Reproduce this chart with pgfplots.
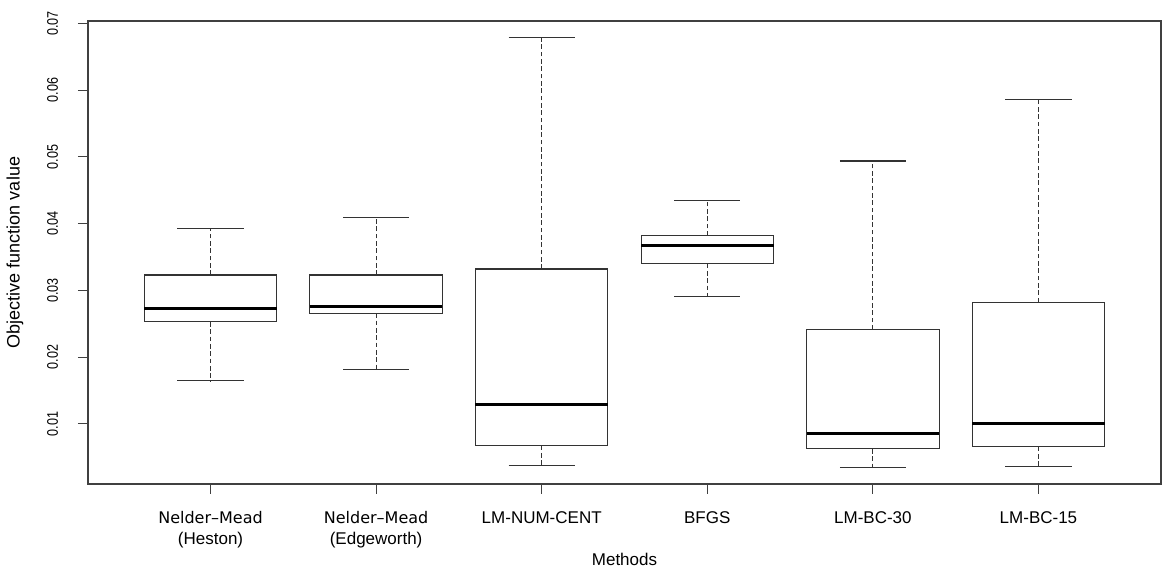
\documentclass[border=0pt]{standalone}
\usepackage{fontspec}
\setmainfont{Liberation Sans}
\newfontfamily\dejavu{DejaVu Sans}
\usepackage{pgfplots}
\pgfplotsset{compat=1.18}
\usepgfplotslibrary{statistics}

\begin{document}
\begin{tikzpicture}
\begin{axis}[
  name=ax,
  scale only axis,
  width=804.75pt, height=347.25pt,
  xmin=0.26, xmax=6.74, ymin=0.00100, ymax=0.07034,
  scaled y ticks=false,
  axis line style={black!75, line width=0.8pt},
  every tick/.style={black!75, line width=0.8pt},
  tick align=outside, major tick length=7.5pt,
  xtick pos=left, ytick pos=left,
  xtick={1,2,3,4,5,6},
  xticklabels={
    {\dejavu\fontsize{12}{16.5}\selectfont Nelder–Mead\\(Heston)},
    {\dejavu\fontsize{12}{16.5}\selectfont Nelder–Mead\\(Edgeworth)},
    {LM-NUM-CENT\\\mbox{}}, {BFGS\\\mbox{}}, {LM-BC-30\\\mbox{}}, {LM-BC-15\\\mbox{}}},
  xticklabel style={anchor=base, inner sep=0pt, align=center, yshift=-38.25pt,
    font=\fontsize{12.75}{16.5}\selectfont},
  ytick={0.01,0.02,0.03,0.04,0.05,0.06,0.07},
  yticklabels={0.01,0.02,0.03,0.04,0.05,0.06,0.07},
  yticklabel style={xshift=-15pt, rotate=90, xscale=0.82, anchor=base, inner sep=0pt,
    font=\fontsize{11.5}{13}\selectfont},
  every axis x label/.style={at={(axis description cs:0.5,0)}, anchor=base, yshift=-61.5pt,
    font=\fontsize{12.75}{15}\selectfont},
  every axis y label/.style={at={(axis description cs:0,0.5)}, xshift=-54.75pt, rotate=90, anchor=center,
    font=\fontsize{13.5}{16}\selectfont},
  xlabel={Methods},
  ylabel={Objective function value},
  boxplot/draw direction=y,
  boxplot/box extend=0.8,
  boxplot/whisker extend=0.4,
  boxplot/every box/.style={draw=black!80, line width=0.8pt, fill=white},
  boxplot/every median/.style={draw=black, line width=2.2pt},
  boxplot/draw/lower whisker/.code={%
    \draw[black!80, line width=0.8pt, dash pattern=on 3.5pt off 2pt]
      (boxplot cs:\pgfplotsboxplotvalue{lower quartile}) -- (boxplot cs:\pgfplotsboxplotvalue{lower whisker});
    \draw[black!80, line width=0.8pt, solid]
      (boxplot whisker cs:\pgfplotsboxplotvalue{lower whisker},0) -- (boxplot whisker cs:\pgfplotsboxplotvalue{lower whisker},1);
  },
  boxplot/draw/upper whisker/.code={%
    \draw[black!80, line width=0.8pt, dash pattern=on 3.5pt off 2pt]
      (boxplot cs:\pgfplotsboxplotvalue{upper quartile}) -- (boxplot cs:\pgfplotsboxplotvalue{upper whisker});
    \draw[black!80, line width=0.8pt, solid]
      (boxplot whisker cs:\pgfplotsboxplotvalue{upper whisker},0) -- (boxplot whisker cs:\pgfplotsboxplotvalue{upper whisker},1);
  },
]
\addplot[draw=black!80, line width=0.8pt, boxplot prepared={draw position=1,
  lower whisker=0.01644, lower quartile=0.02527, median=0.02726, upper quartile=0.0323, upper whisker=0.0392}] coordinates {};
\addplot[draw=black!80, line width=0.8pt, boxplot prepared={draw position=2,
  lower whisker=0.01808, lower quartile=0.02657, median=0.02762, upper quartile=0.0323, upper whisker=0.04089}] coordinates {};
\addplot[draw=black!80, line width=0.8pt, boxplot prepared={draw position=3,
  lower whisker=0.00371, lower quartile=0.00675, median=0.01295, upper quartile=0.0332, upper whisker=0.06783}] coordinates {};
\addplot[draw=black!80, line width=0.8pt, boxplot prepared={draw position=4,
  lower whisker=0.02906, lower quartile=0.0340, median=0.03675, upper quartile=0.03819, upper whisker=0.04343}] coordinates {};
\addplot[draw=black!80, line width=0.8pt, boxplot prepared={draw position=5,
  lower whisker=0.00346, lower quartile=0.00626, median=0.00855, upper quartile=0.02412, upper whisker=0.04937}] coordinates {};
\addplot[draw=black!80, line width=0.8pt, boxplot prepared={draw position=6,
  lower whisker=0.00367, lower quartile=0.0066, median=0.01005, upper quartile=0.02822, upper whisker=0.05865}] coordinates {};
\end{axis}
\pgfresetboundingbox
\path ([xshift=-66pt, yshift=-64.5pt]ax.south west) rectangle ([xshift=1.5pt, yshift=15.75pt]ax.north east);
\end{tikzpicture}
\end{document}
